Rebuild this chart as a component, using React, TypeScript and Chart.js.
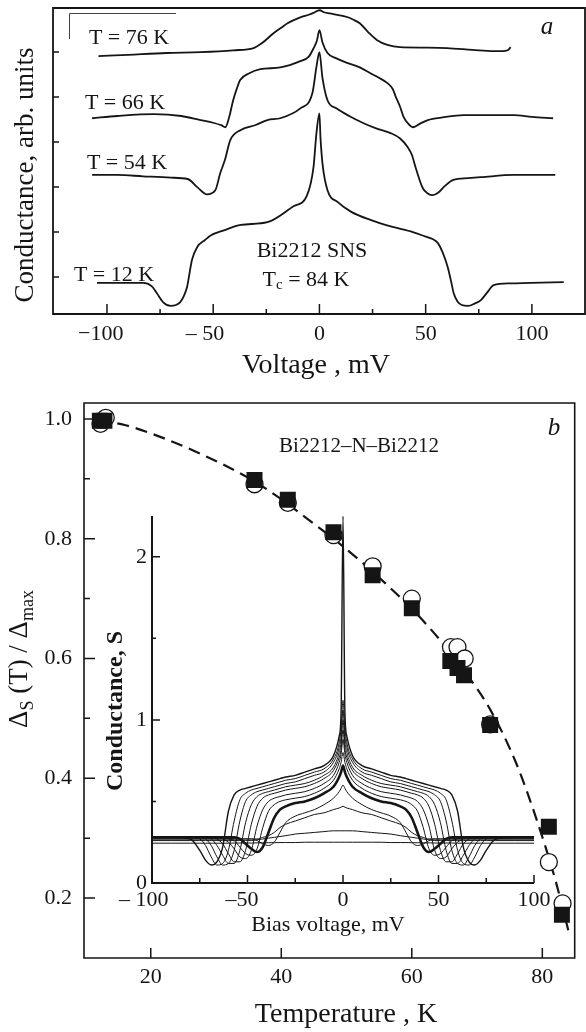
import React, { useEffect, useRef } from "react";
import { Chart, registerables } from "chart.js";

Chart.register(...registerables);

const W = 586;
const H = 1032;
const SERIF = "'Liberation Serif', 'Times New Roman', serif";
const INK = "#151515";

// ---------- Panel a: conductance curves (offset), Bi2212 SNS ----------
const vT76 = [-104, -90, -72, -56, -40.5, -31, -27, -21.6, -18, -15, -9, -5, -2.8, 0, 2.5, 5, 9, 13, 16, 19, 23, 27, 32, 38, 50, 60, 72, 82, 86, 88.6, 90];
const gT76 = [5.91, 5.94, 5.98, 6.0, 6.04, 6.09, 6.2, 6.42, 6.54, 6.64, 6.77, 6.83, 6.87, 6.93, 6.88, 6.86, 6.82, 6.78, 6.72, 6.64, 6.44, 6.27, 6.16, 6.11, 6.1, 6.09, 6.05, 6.02, 6.02, 6.04, 6.11];

const vT66 = [-107, -95, -78, -65, -56, -50, -46, -44.3, -42.5, -40.6, -38.8, -37.3, -33, -27.8, -18.4, -9, -5, -2.8, -1.2, 0, 1.4, 3.8, 8, 13, 19, 24, 28, 32, 34.5, 36, 38, 39.6, 42, 43.9, 47, 51, 58, 68, 80, 91.5, 100, 110];
const gT66 = [4.53, 4.58, 4.62, 4.58, 4.49, 4.43, 4.37, 4.33, 4.55, 4.93, 5.2, 5.38, 5.53, 5.62, 5.66, 5.8, 5.9, 6.08, 6.25, 6.49, 6.22, 5.98, 5.86, 5.76, 5.66, 5.53, 5.43, 5.31, 5.18, 5.0, 4.78, 4.56, 4.4, 4.33, 4.4, 4.49, 4.55, 4.6, 4.6, 4.6, 4.56, 4.53];

const vT54 = [-107, -95, -83, -70, -62, -57.5, -53, -49, -46.7, -44.5, -42, -37, -30, -24.5, -18.4, -9, -3.3, -1.4, 0, 1.4, 3.8, 8, 14, 20.8, 27, 33.5, 38, 41.5, 43.5, 45.5, 48.6, 51, 53.3, 56, 58.5, 63, 70, 76, 91.5, 111];
const gT54 = [3.27, 3.27, 3.24, 3.21, 3.18, 3.0, 2.84, 2.93, 3.31, 3.6, 4.04, 4.27, 4.38, 4.49, 4.53, 4.75, 5.09, 5.67, 6.0, 5.44, 4.93, 4.75, 4.58, 4.42, 4.3, 4.2, 4.08, 3.89, 3.72, 3.4, 2.98, 2.86, 2.82, 2.88, 3.0, 3.16, 3.2, 3.22, 3.27, 3.27];

const vT12 = [-104.7, -95, -83, -79, -76.5, -73.5, -70, -67.5, -65.6, -64, -62.3, -60, -57.5, -54, -51, -45, -37, -24.5, -12, -6, -2.8, -1.4, 0, 0.5, 1.5, 3.8, 8.5, 15, 24, 34, 44, 50, 53.5, 55.7, 58, 60.4, 62, 63.2, 65, 67, 70, 73, 76, 79, 82, 90, 99.5, 115];
const gT12 = [0.87, 0.87, 0.87, 0.8, 0.64, 0.44, 0.36, 0.38, 0.44, 0.56, 0.78, 1.38, 1.67, 1.82, 1.93, 2.04, 2.16, 2.22, 2.58, 2.8, 3.44, 4.2, 4.64, 4.1, 3.5, 2.93, 2.67, 2.45, 2.27, 2.12, 2.0, 1.9, 1.84, 1.76, 1.55, 1.22, 0.9, 0.64, 0.46, 0.38, 0.36, 0.41, 0.49, 0.66, 0.82, 0.86, 0.87, 0.89];

const voltTicksMajor = [-100, -50, 0, 50, 100];
const voltTickLabels = ["\u2212100", "\u2013 50", "0", "50", "100"];
const voltTicksMinor = [-75, -25, 25, 75];
const condTicks = [1, 2, 3, 4, 5, 6];

// ---------- Panel b: gap vs temperature ----------
const tempSquares = [12.2, 12.9, 35.9, 41.0, 48.0, 54.0, 60.0, 65.9, 67.0, 68.0, 72.0, 81.0, 83.0];
const gapSquares = [0.997, 0.997, 0.898, 0.865, 0.811, 0.739, 0.684, 0.596, 0.584, 0.572, 0.489, 0.319, 0.172];
const tempCircles = [12.3, 13.1, 35.9, 41.0, 48.0, 54.0, 60.0, 66.0, 67.0, 68.1, 72.0, 81.0, 83.1];
const gapCircles = [0.992, 1.002, 0.891, 0.86, 0.806, 0.754, 0.70, 0.619, 0.619, 0.60, 0.49, 0.26, 0.191];
const tempFit = [12, 16, 20, 24, 28, 32, 36, 40, 44, 48, 52, 56, 60, 64, 68, 72, 76, 79, 82, 84];
const gapFit = [0.998, 0.99, 0.976, 0.959, 0.94, 0.919, 0.895, 0.866, 0.833, 0.8, 0.764, 0.725, 0.683, 0.635, 0.58, 0.515, 0.425, 0.335, 0.23, 0.145];

const tempTicks = [20, 40, 60, 80];
const gapTicksMajor = [0.2, 0.4, 0.6, 0.8, 1.0];
const gapTickLabels = ["0.2", "0.4", "0.6", "0.8", "1.0"];
const gapTicksMinor = [0.3, 0.5, 0.7, 0.9];

// ---------- Inset: conductance vs bias (symmetric half profiles, |V| in mV) ----------
const biasHalf = [0, 1, 2, 5, 10, 15, 20, 25, 30, 33, 36, 39, 42, 45, 48, 51, 54, 57, 60, 63, 66, 69, 72, 75, 80, 90, 100];
const insetG1 = [2.25, 1.05, 0.9, 0.78, 0.72, 0.7, 0.68, 0.66, 0.65, 0.64, 0.63, 0.62, 0.61, 0.6, 0.59, 0.58, 0.57, 0.54, 0.44, 0.22, 0.13, 0.11, 0.14, 0.2, 0.27, 0.28, 0.28];
const insetG2 = [1.12, 0.95, 0.86, 0.76, 0.7, 0.68, 0.66, 0.64, 0.63, 0.62, 0.61, 0.6, 0.59, 0.58, 0.57, 0.55, 0.51, 0.38, 0.2, 0.12, 0.11, 0.16, 0.23, 0.27, 0.28, 0.28, 0.28];
const insetG3 = [1.06, 0.9, 0.83, 0.74, 0.68, 0.66, 0.64, 0.62, 0.61, 0.6, 0.59, 0.58, 0.57, 0.56, 0.54, 0.5, 0.38, 0.2, 0.12, 0.11, 0.16, 0.23, 0.27, 0.28, 0.28, 0.28, 0.28];
const insetG4 = [1.0, 0.86, 0.8, 0.71, 0.66, 0.63, 0.61, 0.6, 0.59, 0.58, 0.57, 0.56, 0.55, 0.53, 0.48, 0.37, 0.2, 0.12, 0.12, 0.17, 0.23, 0.27, 0.28, 0.28, 0.28, 0.28, 0.28];
const insetG5 = [0.94, 0.82, 0.77, 0.69, 0.64, 0.61, 0.59, 0.58, 0.57, 0.56, 0.55, 0.54, 0.52, 0.47, 0.36, 0.2, 0.13, 0.13, 0.18, 0.24, 0.27, 0.28, 0.28, 0.28, 0.28, 0.28, 0.28];
const insetG6 = [0.88, 0.79, 0.74, 0.66, 0.61, 0.58, 0.56, 0.55, 0.54, 0.53, 0.52, 0.5, 0.45, 0.35, 0.2, 0.15, 0.16, 0.21, 0.25, 0.27, 0.28, 0.28, 0.28, 0.28, 0.28, 0.28, 0.28];
const insetG7 = [0.8, 0.74, 0.7, 0.63, 0.58, 0.55, 0.53, 0.52, 0.51, 0.5, 0.48, 0.44, 0.34, 0.21, 0.17, 0.18, 0.22, 0.26, 0.27, 0.28, 0.28, 0.28, 0.28, 0.28, 0.28, 0.28, 0.28];
const insetG8 = [0.72, 0.68, 0.65, 0.59, 0.55, 0.52, 0.5, 0.49, 0.47, 0.45, 0.4, 0.31, 0.22, 0.19, 0.21, 0.24, 0.27, 0.28, 0.28, 0.28, 0.28, 0.28, 0.28, 0.28, 0.28, 0.28, 0.28];
const insetG9 = [0.6, 0.58, 0.56, 0.52, 0.48, 0.45, 0.43, 0.41, 0.37, 0.31, 0.25, 0.23, 0.24, 0.26, 0.27, 0.27, 0.27, 0.27, 0.27, 0.27, 0.27, 0.27, 0.27, 0.27, 0.27, 0.27, 0.27];
const insetG10 = [0.47, 0.465, 0.46, 0.45, 0.43, 0.42, 0.4, 0.38, 0.36, 0.34, 0.31, 0.29, 0.28, 0.27, 0.27, 0.27, 0.27, 0.27, 0.27, 0.27, 0.27, 0.27, 0.27, 0.27, 0.27, 0.27, 0.27];
const insetG11 = [0.32, 0.32, 0.32, 0.32, 0.315, 0.31, 0.305, 0.3, 0.29, 0.285, 0.28, 0.275, 0.27, 0.265, 0.26, 0.26, 0.26, 0.26, 0.26, 0.26, 0.26, 0.26, 0.26, 0.26, 0.26, 0.26, 0.26];
const insetG12 = [0.25, 0.25, 0.25, 0.25, 0.25, 0.25, 0.25, 0.248, 0.248, 0.248, 0.247, 0.247, 0.246, 0.246, 0.245, 0.245, 0.245, 0.245, 0.244, 0.244, 0.244, 0.244, 0.244, 0.244, 0.244, 0.244, 0.244];
const insetCurves = [insetG1, insetG2, insetG3, insetG4, insetG5, insetG6, insetG7, insetG8, insetG9, insetG10, insetG11, insetG12];
const insetWidths = [1.4, 1, 1, 1, 1, 1, 1, 2.6, 1, 1, 1, 1];

const biasTicksMajor = [-100, -50, 0, 50, 100];
const biasTickLabels = ["\u2013 100", "\u201350", "0", "50", "100"];
const biasTicksMinor = [-75, -25, 25, 75];
const insetCondTicks = [0, 1, 2];
const insetCondMinor = [0.5, 1.5];

// ---------- drawing helpers ----------
type Run = { t: string; sub?: boolean };

function runFont(size: number, sub: boolean | undefined, style: string) {
  const s = sub ? Math.round(size * 0.68) : size;
  return `${style} ${s}px ${SERIF}`;
}

// Draws a line of text with optional subscripts, centred on (cx, cy).
// When rotated, cx is the baseline position and text reads bottom-to-top.
function drawRuns(ctx: CanvasRenderingContext2D, runs: Run[], cx: number, cy: number, size: number, style = "normal", rotated = false) {
  ctx.save();
  let total = 0;
  const widths = runs.map((r) => {
    ctx.font = runFont(size, r.sub, style);
    const w = ctx.measureText(r.t).width;
    total += w;
    return w;
  });
  ctx.translate(cx, cy);
  if (rotated) ctx.rotate(-Math.PI / 2);
  ctx.textAlign = "left";
  ctx.textBaseline = rotated ? "alphabetic" : "middle";
  ctx.fillStyle = INK;
  let x = -total / 2;
  runs.forEach((r, i) => {
    ctx.font = runFont(size, r.sub, style);
    ctx.fillText(r.t, x, r.sub ? size * 0.24 : 0);
    x += widths[i];
  });
  ctx.restore();
}

function drawTickLabel(ctx: CanvasRenderingContext2D, label: string, x: number, y: number) {
  const m = label.match(/^([\u2212\u2013-]\s?)(.+)$/);
  ctx.textBaseline = "middle";
  if (m) {
    const dw = ctx.measureText(m[2]).width;
    ctx.textAlign = "center";
    ctx.fillText(m[2], x, y);
    ctx.textAlign = "right";
    ctx.fillText(m[1], x - dw / 2, y);
  } else {
    ctx.textAlign = "center";
    ctx.fillText(label, x, y);
  }
}

type TickSet = { values: number[]; len: number; labels?: string[] };

interface Deco {
  box: boolean;
  frameWidth: number;
  tickWidth: number;
  xTicks: TickSet[];
  yTicks: TickSet[];
  xLabelY: number;
  yLabelRight: number;
  tickFont: string;
  extra?: (ctx: CanvasRenderingContext2D, chart: any) => void;
}

function decoPlugin(id: string, d: Deco) {
  return {
    id,
    afterDatasetsDraw(chart: any) {
      const { ctx, chartArea: a, scales } = chart;
      const xs = scales.x;
      const ys = scales.y;
      ctx.save();
      ctx.strokeStyle = INK;
      ctx.fillStyle = INK;
      ctx.lineWidth = d.frameWidth;
      ctx.beginPath();
      if (d.box) {
        ctx.rect(a.left, a.top, a.right - a.left, a.bottom - a.top);
      } else {
        ctx.moveTo(a.left, a.top);
        ctx.lineTo(a.left, a.bottom);
        ctx.lineTo(a.right, a.bottom);
      }
      ctx.stroke();

      ctx.lineWidth = d.tickWidth;
      ctx.beginPath();
      for (const set of d.xTicks) {
        for (const v of set.values) {
          const px = xs.getPixelForValue(v);
          ctx.moveTo(px, a.bottom);
          ctx.lineTo(px, a.bottom - set.len);
        }
      }
      for (const set of d.yTicks) {
        for (const v of set.values) {
          const py = ys.getPixelForValue(v);
          ctx.moveTo(a.left, py);
          ctx.lineTo(a.left + set.len, py);
        }
      }
      ctx.stroke();

      ctx.font = d.tickFont;
      for (const set of d.xTicks) {
        if (!set.labels) continue;
        set.values.forEach((v, i) => drawTickLabel(ctx, set.labels![i], xs.getPixelForValue(v), d.xLabelY));
      }
      for (const set of d.yTicks) {
        if (!set.labels) continue;
        ctx.textAlign = "right";
        ctx.textBaseline = "middle";
        set.values.forEach((v, i) => ctx.fillText(set.labels![i], d.yLabelRight, ys.getPixelForValue(v)));
      }
      if (d.extra) d.extra(ctx, chart);
      ctx.restore();
    },
  };
}

function pairs(xs: number[], ys: number[]) {
  return xs.map((x, i) => ({ x, y: ys[i] }));
}

function mirrored(half: number[]) {
  const pts: { x: number; y: number }[] = [];
  for (let i = biasHalf.length - 1; i > 0; i--) pts.push({ x: -biasHalf[i], y: half[i] });
  for (let i = 0; i < biasHalf.length; i++) pts.push({ x: biasHalf[i], y: half[i] });
  return pts;
}

function baseOptions(padding: { left: number; top: number; right: number; bottom: number }, x: [number, number], y: [number, number]) {
  return {
    responsive: false,
    animation: false as const,
    devicePixelRatio: 1,
    events: [] as any[],
    layout: { padding },
    plugins: { legend: { display: false }, tooltip: { enabled: false } },
    scales: {
      x: { type: "linear" as const, display: false, min: x[0], max: x[1] },
      y: { type: "linear" as const, display: false, min: y[0], max: y[1] },
    },
  };
}

function curve(data: { x: number; y: number }[], width: number) {
  return {
    data,
    borderColor: INK,
    borderWidth: width,
    pointRadius: 0,
    fill: false,
    cubicInterpolationMode: "monotone" as const,
  };
}

// ---------- chart builders ----------
function buildPanelA(canvas: HTMLCanvasElement) {
  const deco = decoPlugin("panelAFrame", {
    box: true,
    frameWidth: 1.8,
    tickWidth: 1.5,
    xTicks: [
      { values: voltTicksMajor, len: 10, labels: voltTickLabels },
      { values: voltTicksMinor, len: 5 },
    ],
    yTicks: [{ values: condTicks, len: 6 }],
    xLabelY: 334,
    yLabelRight: 0,
    tickFont: `22px ${SERIF}`,
    extra: (ctx) => {
      // small bracket mark at the upper left of the frame
      ctx.strokeStyle = "#444";
      ctx.lineWidth = 1;
      ctx.beginPath();
      ctx.moveTo(69.5, 39);
      ctx.lineTo(69.5, 13.5);
      ctx.lineTo(176, 13.5);
      ctx.stroke();

      drawRuns(ctx, [{ t: "T = 76 K" }], 129, 38, 22);
      drawRuns(ctx, [{ t: "T = 66 K" }], 125, 103, 22);
      drawRuns(ctx, [{ t: "T = 54 K" }], 127, 163, 22);
      drawRuns(ctx, [{ t: "T = 12 K" }], 114, 275, 22);
      drawRuns(ctx, [{ t: "Bi2212 SNS" }], 312, 251, 22);
      drawRuns(ctx, [{ t: "T" }, { t: "c", sub: true }, { t: " = 84 K" }], 306, 280, 22);
      drawRuns(ctx, [{ t: "a" }], 547, 27, 25, "italic");
      drawRuns(ctx, [{ t: "Voltage , mV" }], 316, 366, 28);
      drawRuns(ctx, [{ t: "Conductance, arb. units" }], 33, 175, 27, "normal", true);
    },
  });
  return new Chart(canvas, {
    type: "line",
    data: {
      datasets: [
        curve(pairs(vT76, gT76), 1.8),
        curve(pairs(vT66, gT66), 1.8),
        curve(pairs(vT54, gT54), 1.8),
        curve(pairs(vT12, gT12), 1.8),
      ],
    },
    options: baseOptions({ left: 53, top: 8, right: 1, bottom: H - 314 }, [-125.4, 125], [0.18, 6.98]) as any,
    plugins: [deco],
  });
}

function buildPanelB(canvas: HTMLCanvasElement) {
  const deco = decoPlugin("panelBFrame", {
    box: true,
    frameWidth: 1.6,
    tickWidth: 1.5,
    xTicks: [{ values: tempTicks, len: 10, labels: tempTicks.map(String) }],
    yTicks: [
      { values: gapTicksMajor, len: 11, labels: gapTickLabels },
      { values: gapTicksMinor, len: 6 },
    ],
    xLabelY: 977,
    yLabelRight: 72,
    tickFont: `22px ${SERIF}`,
    extra: (ctx) => {
      drawRuns(ctx, [{ t: "Bi2212\u2013N\u2013Bi2212" }], 359, 446, 21);
      drawRuns(ctx, [{ t: "b" }], 554, 428, 25, "italic");
      drawRuns(ctx, [{ t: "Temperature , K" }], 346, 1015, 28);
      drawRuns(
        ctx,
        [{ t: "\u0394" }, { t: "S", sub: true }, { t: " (T) / \u0394" }, { t: "max", sub: true }],
        27,
        659,
        27,
        "normal",
        true
      );
    },
  });
  return new Chart(canvas, {
    type: "line",
    data: {
      datasets: [
        {
          data: pairs(tempSquares, gapSquares),
          showLine: false,
          pointStyle: "rect",
          pointRadius: 11.3,
          pointBackgroundColor: INK,
          pointBorderWidth: 0,
          order: 0,
        },
        {
          data: pairs(tempCircles, gapCircles),
          showLine: false,
          pointStyle: "circle",
          pointRadius: 8.5,
          pointBackgroundColor: "#ffffff",
          pointBorderColor: INK,
          pointBorderWidth: 1.3,
          order: 1,
        },
        {
          data: pairs(tempFit, gapFit),
          borderColor: INK,
          borderWidth: 2.2,
          borderDash: [12, 7],
          pointRadius: 0,
          fill: false,
          cubicInterpolationMode: "monotone",
          order: 2,
        },
      ],
    },
    options: baseOptions({ left: 84, top: 403, right: 2, bottom: H - 958 }, [9.77, 84.96], [0.0998, 1.0267]) as any,
    plugins: [deco],
  });
}

function buildInset(canvas: HTMLCanvasElement) {
  const deco = decoPlugin("insetAxes", {
    box: false,
    frameWidth: 2,
    tickWidth: 1.5,
    xTicks: [
      { values: biasTicksMajor, len: 8, labels: biasTickLabels },
      { values: biasTicksMinor, len: 5 },
    ],
    yTicks: [
      { values: insetCondTicks, len: 8, labels: insetCondTicks.map(String) },
      { values: insetCondMinor, len: 4 },
    ],
    xLabelY: 900,
    yLabelRight: 147,
    tickFont: `22px ${SERIF}`,
    extra: (ctx) => {
      drawRuns(ctx, [{ t: "Bias voltage, mV" }], 328, 925, 22);
      drawRuns(ctx, [{ t: "Conductance, S" }], 122, 711, 24, "bold", true);
    },
  });
  return new Chart(canvas, {
    type: "line",
    data: {
      datasets: insetCurves.map((g, i) => curve(mirrored(g), insetWidths[i])),
    },
    options: baseOptions({ left: 152, top: 516, right: W - 534, bottom: H - 883 }, [-100, 100], [0, 2.25]) as any,
    plugins: [deco],
  });
}

function ChartCanvas({ build }: { build: (c: HTMLCanvasElement) => Chart }) {
  const ref = useRef<HTMLCanvasElement>(null);
  useEffect(() => {
    const chart = build(ref.current as HTMLCanvasElement);
    return () => chart.destroy();
  }, [build]);
  return <canvas ref={ref} width={W} height={H} style={{ position: "absolute", left: 0, top: 0, width: W, height: H }} />;
}

export default function App() {
  return (
    <div style={{ position: "absolute", left: 0, top: 0, width: W, height: H, background: "#ffffff", overflow: "hidden" }}>
      <ChartCanvas build={buildPanelA} />
      <ChartCanvas build={buildPanelB} />
      <ChartCanvas build={buildInset} />
    </div>
  );
}
